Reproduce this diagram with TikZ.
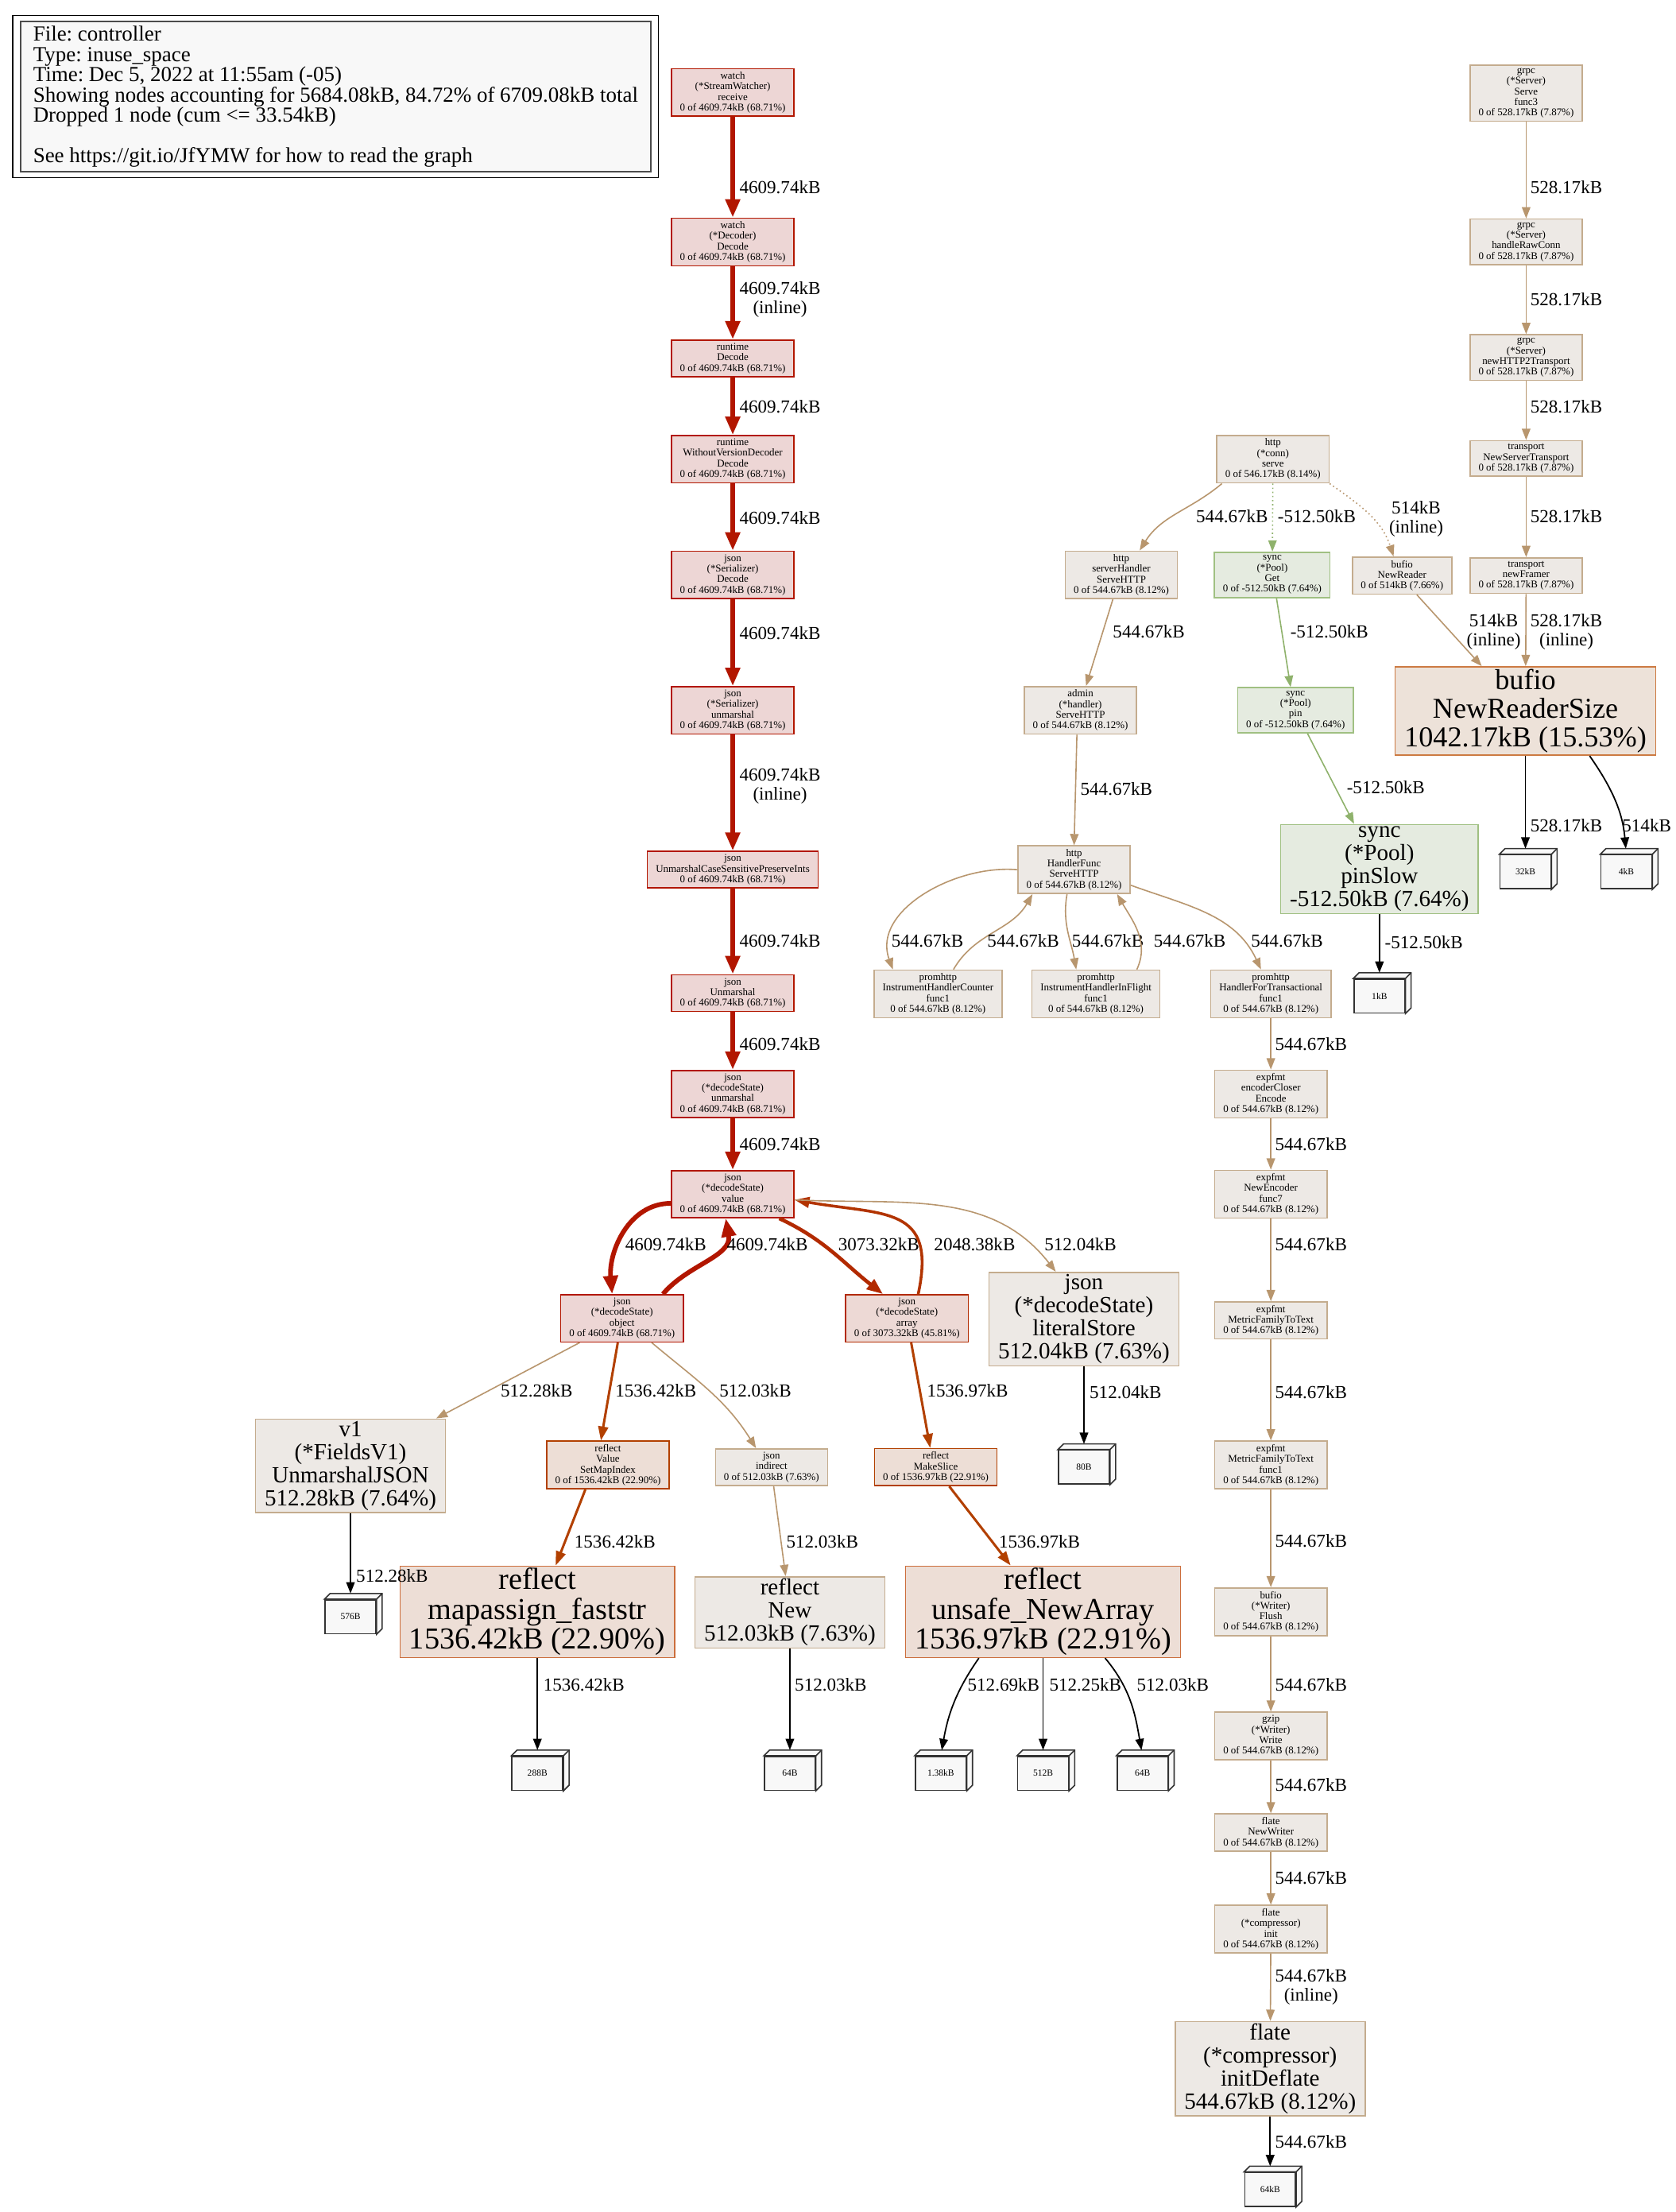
\documentclass[tikz,border=0pt]{standalone}
\usepackage{fontspec}
\setmainfont{Liberation Serif}
\usetikzlibrary{arrows.meta}
\frenchspacing
\definecolor{hotfill}{RGB}{237,214,213}
\definecolor{hotline}{RGB}{178,22,0}
\definecolor{warmfill}{RGB}{237,217,213}
\definecolor{warmline}{RGB}{178,42,0}
\definecolor{midline}{RGB}{178,52,0}
\definecolor{rustfill}{RGB}{237,222,214}
\definecolor{rustline}{RGB}{178,64,0}
\definecolor{rustedge}{RGB}{204,110,60}
\definecolor{readfill}{RGB}{237,226,217}
\definecolor{readline}{RGB}{204,122,66}
\definecolor{tanfill}{RGB}{237,233,229}
\definecolor{tanline}{RGB}{184,150,110}
\definecolor{tanedge}{RGB}{196,172,142}
\definecolor{poolfill}{RGB}{229,235,224}
\definecolor{poolline}{RGB}{143,178,108}
\definecolor{pooledge}{RGB}{160,192,130}
\definecolor{paper}{RGB}{248,248,248}

\begin{document}
\begin{tikzpicture}[x=1pt,y=-1pt,
fn/.style={draw,align=center,line width=0.9pt,inner xsep=6pt,inner ysep=2.3pt,font=\fontsize{7.3}{7.5}\selectfont},
midfn/.style={draw,align=center,line width=0.9pt,inner xsep=6.5pt,inner ysep=1.5pt,font=\fontsize{16.4}{16.3}\selectfont},
bigfn/.style={draw,align=center,line width=0.9pt,inner xsep=6.5pt,inner ysep=1.5pt,font=\fontsize{21.6}{21}\selectfont},
hot/.style={fill=hotfill,draw=hotline},
warm/.style={fill=warmfill,draw=warmline},
rust/.style={fill=rustfill,draw=rustline},
rustbig/.style={fill=rustfill,draw=rustedge},
reader/.style={fill=readfill,draw=readline},
tanbox/.style={fill=tanfill,draw=tanedge},
poolbox/.style={fill=poolfill,draw=pooledge},
cube/.style={draw=black!80,fill=paper,line width=0.9pt,minimum width=36pt,minimum height=24pt,inner sep=0pt,font=\fontsize{6.5}{7}\selectfont},
lbl/.style={align=center,inner sep=0pt,font=\fontsize{13}{13.5}\selectfont},
heavy/.style={draw=hotline,line width=3.3pt,-{Triangle[length=13pt,width=10pt]}},
warmarr/.style={draw=warmline,line width=2.6pt,-{Triangle[length=11.5pt,width=8.5pt]}},
midarr/.style={draw=midline,line width=2pt,-{Triangle[length=10.5pt,width=7.5pt]}},
rustarr/.style={draw=rustline,line width=1.7pt,-{Triangle[length=10pt,width=7pt]}},
tanarr/.style={draw=tanline,line width=0.9pt,-{Triangle[length=8pt,width=6pt]}},
poolarr/.style={draw=poolline,line width=0.9pt,-{Triangle[length=8pt,width=6pt]}},
leafarr/.style={draw=black,line width=1pt,shorten >=4pt,-{Triangle[length=8pt,width=6pt]}}]
\path[use as bounding box,fill=white] (0,0) rectangle (1188,1568);

\node[draw=black!70,fill=paper,line width=0.9pt,align=left,inner xsep=6pt,minimum width=447pt,minimum height=103pt,font=\fontsize{15.2}{14.3}\selectfont] (legend) at (238,68.5) {File: controller\\Type: inuse\_space\\Time: Dec 5, 2022 at 11:55am (-05)\\Showing nodes accounting for 5684.08kB, 84.72\% of 6709.08kB total\\Dropped 1 node (cum <= 33.54kB)\\[14.3pt]See https://git.io/JfYMW for how to read the graph};
\draw[line width=0.7pt] ([shift={(-5pt,4pt)}]legend.north west) rectangle ([shift={(5pt,-4pt)}]legend.south east);

\node[fn,hot] (recv) at (519.5,65.5) {watch\\(*StreamWatcher)\\receive\\0 of 4609.74kB (68.71\%)};
\node[fn,hot] (wdec) at (519.5,171.5) {watch\\(*Decoder)\\Decode\\0 of 4609.74kB (68.71\%)};
\node[fn,hot] (rdec) at (519.5,254) {runtime\\Decode\\0 of 4609.74kB (68.71\%)};
\node[fn,hot] (wvd) at (519.5,325.5) {runtime\\WithoutVersionDecoder\\Decode\\0 of 4609.74kB (68.71\%)};
\node[fn,hot] (sdec) at (519.5,407.5) {json\\(*Serializer)\\Decode\\0 of 4609.74kB (68.71\%)};
\node[fn,hot] (sunm) at (519.5,503.5) {json\\(*Serializer)\\unmarshal\\0 of 4609.74kB (68.71\%)};
\node[fn,hot] (ucs) at (519.5,616.5) {json\\UnmarshalCaseSensitivePreserveInts\\0 of 4609.74kB (68.71\%)};
\node[fn,hot] (junm) at (519.5,704) {json\\Unmarshal\\0 of 4609.74kB (68.71\%)};
\node[fn,hot] (dsunm) at (519.5,775.5) {json\\(*decodeState)\\unmarshal\\0 of 4609.74kB (68.71\%)};
\node[fn,hot] (value) at (519.5,846.5) {json\\(*decodeState)\\value\\0 of 4609.74kB (68.71\%)};
\node[fn,hot] (object) at (441,934.5) {json\\(*decodeState)\\object\\0 of 4609.74kB (68.71\%)};
\node[fn,warm] (array) at (643,934.5) {json\\(*decodeState)\\array\\0 of 3073.32kB (45.81\%)};
\node[midfn,tanbox] (lit) at (768.5,935) {json\\(*decodeState)\\literalStore\\512.04kB (7.63\%)};
\node[midfn,tanbox] (fields) at (248.5,1039) {v1\\(*FieldsV1)\\UnmarshalJSON\\512.28kB (7.64\%)};
\node[fn,rust] (setmap) at (431,1038.5) {reflect\\Value\\SetMapIndex\\0 of 1536.42kB (22.90\%)};
\node[fn,tanbox] (indirect) at (547,1040) {json\\indirect\\0 of 512.03kB (7.63\%)};
\node[fn,rust] (mkslice) at (663.5,1040) {reflect\\MakeSlice\\0 of 1536.97kB (22.91\%)};
\node[bigfn,rustbig] (mapassign) at (381,1142.5) {reflect\\mapassign\_faststr\\1536.42kB (22.90\%)};
\node[midfn,tanbox] (rnew) at (560,1143) {reflect\\New\\512.03kB (7.63\%)};
\node[bigfn,rustbig] (newarr) at (739.5,1142.5) {reflect\\unsafe\_NewArray\\1536.97kB (22.91\%)};

\node[fn,tanbox] (conn) at (902.5,325.5) {http\\(*conn)\\serve\\0 of 546.17kB (8.14\%)};
\node[fn,tanbox] (shttp) at (795,407.5) {http\\serverHandler\\ServeHTTP\\0 of 544.67kB (8.12\%)};
\node[fn,poolbox] (get) at (902,407.5) {sync\\(*Pool)\\Get\\0 of -512.50kB (7.64\%)};
\node[fn,tanbox] (nreader) at (994,408) {bufio\\NewReader\\0 of 514kB (7.66\%)};
\node[fn,tanbox] (admin) at (766,503.5) {admin\\(*handler)\\ServeHTTP\\0 of 544.67kB (8.12\%)};
\node[fn,poolbox] (pin) at (918.5,503.5) {sync\\(*Pool)\\pin\\0 of -512.50kB (7.64\%)};
\node[midfn,poolbox] (pinslow) at (978,616) {sync\\(*Pool)\\pinSlow\\-512.50kB (7.64\%)};
\node[fn,tanbox] (hfunc) at (761.5,616.5) {http\\HandlerFunc\\ServeHTTP\\0 of 544.67kB (8.12\%)};
\node[fn,tanbox] (counter) at (665,704.5) {promhttp\\InstrumentHandlerCounter\\func1\\0 of 544.67kB (8.12\%)};
\node[fn,tanbox] (inflight) at (777,704.5) {promhttp\\InstrumentHandlerInFlight\\func1\\0 of 544.67kB (8.12\%)};
\node[fn,tanbox] (transact) at (901,704.5) {promhttp\\HandlerForTransactional\\func1\\0 of 544.67kB (8.12\%)};
\node[fn,tanbox] (enc) at (901,775.5) {expfmt\\encoderCloser\\Encode\\0 of 544.67kB (8.12\%)};
\node[fn,tanbox] (newenc) at (901,846.5) {expfmt\\NewEncoder\\func7\\0 of 544.67kB (8.12\%)};
\node[fn,tanbox] (mftt) at (901,936) {expfmt\\MetricFamilyToText\\0 of 544.67kB (8.12\%)};
\node[fn,tanbox] (mfttf) at (901,1038.5) {expfmt\\MetricFamilyToText\\func1\\0 of 544.67kB (8.12\%)};
\node[fn,tanbox] (flush) at (901,1142.5) {bufio\\(*Writer)\\Flush\\0 of 544.67kB (8.12\%)};
\node[fn,tanbox] (gzw) at (901,1230.5) {gzip\\(*Writer)\\Write\\0 of 544.67kB (8.12\%)};
\node[fn,tanbox] (fnw) at (901,1299) {flate\\NewWriter\\0 of 544.67kB (8.12\%)};
\node[fn,tanbox] (finit) at (901,1367.5) {flate\\(*compressor)\\init\\0 of 544.67kB (8.12\%)};
\node[midfn,tanbox] (deflate) at (900.5,1466.5) {flate\\(*compressor)\\initDeflate\\544.67kB (8.12\%)};

\node[fn,tanbox] (serve) at (1082,66) {grpc\\(*Server)\\Serve\\func3\\0 of 528.17kB (7.87\%)};
\node[fn,tanbox] (rawconn) at (1082,171.5) {grpc\\(*Server)\\handleRawConn\\0 of 528.17kB (7.87\%)};
\node[fn,tanbox] (h2t) at (1082,253.5) {grpc\\(*Server)\\newHTTP2Transport\\0 of 528.17kB (7.87\%)};
\node[fn,tanbox] (nst) at (1082,325) {transport\\NewServerTransport\\0 of 528.17kB (7.87\%)};
\node[fn,tanbox] (framer) at (1082,408) {transport\\newFramer\\0 of 528.17kB (7.87\%)};
\node[bigfn,reader,font=\fontsize{20.4}{20.5}\selectfont] (nrs) at (1081.5,504) {bufio\\NewReaderSize\\1042.17kB (15.53\%)};

\node[cube] (c576) at (248.5,1146) {576B};
\node[cube] (c288) at (381,1257) {288B};
\node[cube] (c64a) at (560,1257) {64B};
\node[cube] (c138) at (667,1257) {1.38kB};
\node[cube] (c512) at (739.5,1257) {512B};
\node[cube] (c64b) at (810,1257) {64B};
\node[cube] (c80) at (768.5,1040) {80B};
\node[cube] (c1k) at (978,706) {1kB};
\node[cube] (c32k) at (1081.5,618) {32kB};
\node[cube] (c4k) at (1153,618) {4kB};
\node[cube] (c64k) at (900.5,1552) {64kB};
\foreach \c in {c576,c288,c64a,c138,c512,c64b,c80,c1k,c32k,c4k,c64k}{
  \filldraw[draw=black!80,fill=paper,line width=0.9pt] (\c.north west) -- ++(4pt,4pt) -| ([shift={(4pt,4pt)}]\c.south east) -- (\c.south east) -- (\c.north east) -- cycle;
  \draw[black!80,line width=0.9pt] (\c.north east) -- ++(4pt,4pt);
}

\draw[heavy] (recv) -- (wdec);
\node[lbl] (l1) at (553,133) {4609.74kB};
\draw[heavy] (wdec) -- (rdec);
\node[lbl] (l2) at (553,212.5) {4609.74kB\\(inline)};
\draw[heavy] (rdec) -- (wvd);
\node[lbl] (l3) at (553,288) {4609.74kB};
\draw[heavy] (wvd) -- (sdec);
\node[lbl] (l4) at (553,367) {4609.74kB};
\draw[heavy] (sdec) -- (sunm);
\node[lbl] (l5) at (553,449) {4609.74kB};
\draw[heavy] (sunm) -- (ucs);
\node[lbl] (l6) at (553,557) {4609.74kB\\(inline)};
\draw[heavy] (ucs) -- (junm);
\node[lbl] (l7) at (553,667) {4609.74kB};
\draw[heavy] (junm) -- (dsunm);
\node[lbl] (l8) at (553,740) {4609.74kB};
\draw[heavy] (dsunm) -- (value);
\node[lbl] (l9) at (553,811) {4609.74kB};
\draw[heavy] ([yshift=-6.5pt]value.west) to[out=180,in=95] ([xshift=-7pt]object.north);
\node[lbl] (l10) at (472,882) {4609.74kB};
\draw[heavy] ([xshift=29pt]object.north) to[out=50,in=-80] ([xshift=-5pt]value.south);
\node[lbl] (l11) at (544,882) {4609.74kB};
\draw[warmarr] ([xshift=33pt]value.south) to[out=-25,in=142] ([xshift=-17pt]array.north);
\node[lbl] (l12) at (623,882) {3073.32kB};
\draw[midarr] ([xshift=8pt]array.north) to[out=78,in=-10,looseness=1.5] ([yshift=-4pt]value.east);
\node[lbl] (l13) at (691,882) {2048.38kB};
\draw[tanarr] ([yshift=-4pt]value.east) to[out=-3,in=128] ([xshift=-20pt]lit.north);
\node[lbl] (l14) at (766,882) {512.04kB};

\draw[tanarr] ([xshift=-30pt]object.south) -- ([xshift=-7pt]fields.north east);
\node[lbl] (l15) at (380.5,986) {512.28kB};
\draw[rustarr] ([xshift=-3pt]object.south) -- ([xshift=-5pt]setmap.north);
\node[lbl] (l16) at (465,986) {1536.42kB};
\draw[tanarr] ([xshift=21pt]object.south) to[out=-40,in=122] ([xshift=-11pt]indirect.north);
\node[lbl] (l17) at (535.5,986) {512.03kB};
\draw[rustarr] ([xshift=3pt]array.south) -- ([xshift=-4pt]mkslice.north);
\node[lbl] (l18) at (686,986) {1536.97kB};
\draw[leafarr] (lit.south) -- (c80.north);
\node[lbl] (l19) at (798,987) {512.04kB};
\draw[leafarr] (fields.south) -- (c576.north);
\node[lbl] (l20) at (278,1117) {512.28kB};
\draw[rustarr] ([xshift=-16pt]setmap.south) -- ([xshift=13pt]mapassign.north);
\node[lbl] (l21) at (436,1093) {1536.42kB};
\draw[tanarr] ([xshift=1.5pt]indirect.south) -- ([xshift=-3pt]rnew.north);
\node[lbl] (l22) at (583,1093) {512.03kB};
\draw[rustarr] ([xshift=9.5pt]mkslice.south) -- ([xshift=-23pt]newarr.north);
\node[lbl] (l23) at (737,1093) {1536.97kB};
\draw[leafarr] (mapassign.south) -- (c288.north);
\node[lbl] (l24) at (414,1194) {1536.42kB};
\draw[leafarr] (rnew.south) -- (c64a.north);
\node[lbl] (l25) at (589,1194) {512.03kB};
\draw[leafarr] ([xshift=-45.5pt]newarr.south) to[out=-125,in=80] (c138.north);
\node[lbl] (l26) at (711.5,1194) {512.69kB};
\draw[leafarr] (newarr.south) -- (c512.north);
\node[lbl] (l27) at (769.5,1194) {512.25kB};
\draw[leafarr] ([xshift=44pt]newarr.south) to[out=-50,in=100] (c64b.north);
\node[lbl] (l28) at (831.5,1194) {512.03kB};

\draw[tanarr] ([xshift=4pt]conn.south west) to[out=-140,in=58] ([xshift=13pt]shttp.north);
\node[lbl] (l29) at (873.5,366) {544.67kB};
\draw[poolarr,dotted] (conn) -- (get);
\node[lbl] (l30) at (933.5,366) {-512.50kB};
\draw[tanarr,dotted] (conn.south east) to[out=-35,in=108] ([xshift=-6pt]nreader.north);
\node[lbl] (l31) at (1004,368) {514kB\\(inline)};
\draw[tanarr] ([xshift=-6pt]shttp.south) -- ([xshift=4pt]admin.north);
\node[lbl] (l32) at (814.5,448) {544.67kB};
\draw[poolarr] ([xshift=3pt]get.south) -- ([xshift=-3.5pt]pin.north);
\node[lbl] (l33) at (942.5,448) {-512.50kB};
\draw[poolarr] ([xshift=8.5pt]pin.south) -- ([xshift=-18pt]pinslow.north);
\node[lbl] (l34) at (982.5,558) {-512.50kB};
\draw[tanarr] ([xshift=-2.5pt]admin.south) -- (hfunc.north);
\node[lbl] (l35) at (791.5,559) {544.67kB};
\draw[leafarr] (pinslow) -- (c1k);
\node[lbl] (l36) at (1009.5,668) {-512.50kB};
\draw[tanarr] (hfunc.west) to[out=175,in=110] ([xshift=-32pt]counter.north);
\node[lbl] (l37) at (657.5,667) {544.67kB};
\draw[tanarr] ([xshift=11pt]counter.north) to[out=60,in=-120] ([xshift=-29.5pt]hfunc.south);
\node[lbl] (l38) at (725.5,667) {544.67kB};
\draw[tanarr] ([xshift=-5pt]hfunc.south) to[out=-100,in=100] ([xshift=-14pt]inflight.north);
\node[lbl] (l39) at (785.5,667) {544.67kB};
\draw[tanarr] ([xshift=29pt]inflight.north) to[out=65,in=-60] ([xshift=30.5pt]hfunc.south);
\node[lbl] (l40) at (843.5,667) {544.67kB};
\draw[tanarr] ([yshift=-11pt]hfunc.east) to[out=-20,in=115] ([xshift=-7pt]transact.north);
\node[lbl] (l41) at (912.5,667) {544.67kB};

\draw[tanarr] (transact) -- (enc);
\node[lbl] (l42) at (929.5,740) {544.67kB};
\draw[tanarr] (enc) -- (newenc);
\node[lbl] (l43) at (929.5,811) {544.67kB};
\draw[tanarr] (newenc) -- (mftt);
\node[lbl] (l44) at (929.5,882) {544.67kB};
\draw[tanarr] (mftt) -- (mfttf);
\node[lbl] (l45) at (929.5,987) {544.67kB};
\draw[tanarr] (mfttf) -- (flush);
\node[lbl] (l46) at (929.5,1092) {544.67kB};
\draw[tanarr] (flush) -- (gzw);
\node[lbl] (l47) at (929.5,1194) {544.67kB};
\draw[tanarr] (gzw) -- (fnw);
\node[lbl] (l48) at (929.5,1265) {544.67kB};
\draw[tanarr] (fnw) -- (finit);
\node[lbl] (l49) at (929.5,1331) {544.67kB};
\draw[tanarr] (finit) -- (deflate);
\node[lbl] (l50) at (929.5,1408.5) {544.67kB\\(inline)};
\draw[leafarr] (deflate.south) -- (c64k.north);
\node[lbl] (l51) at (929.5,1518) {544.67kB};

\draw[tanarr] (serve) -- (rawconn);
\node[lbl] (l52) at (1110.5,133) {528.17kB};
\draw[tanarr] (rawconn) -- (h2t);
\node[lbl] (l53) at (1110.5,212) {528.17kB};
\draw[tanarr] (h2t) -- (nst);
\node[lbl] (l54) at (1110.5,288) {528.17kB};
\draw[tanarr] (nst) -- (framer);
\node[lbl] (l55) at (1110.5,366) {528.17kB};
\draw[tanarr] (framer) -- (nrs);
\node[lbl] (l56) at (1110.5,448) {528.17kB\\(inline)};
\draw[tanarr] ([xshift=10.5pt]nreader.south) -- ([xshift=-31pt]nrs.north);
\node[lbl] (l57) at (1059,448) {514kB\\(inline)};
\draw[leafarr] (nrs.south) -- (c32k.north);
\node[lbl] (l58) at (1110.5,585) {528.17kB};
\draw[leafarr] ([xshift=45.5pt]nrs.south) to[out=-55,in=95] (c4k.north);
\node[lbl] (l59) at (1167.5,585) {514kB};
\end{tikzpicture}
\end{document}
